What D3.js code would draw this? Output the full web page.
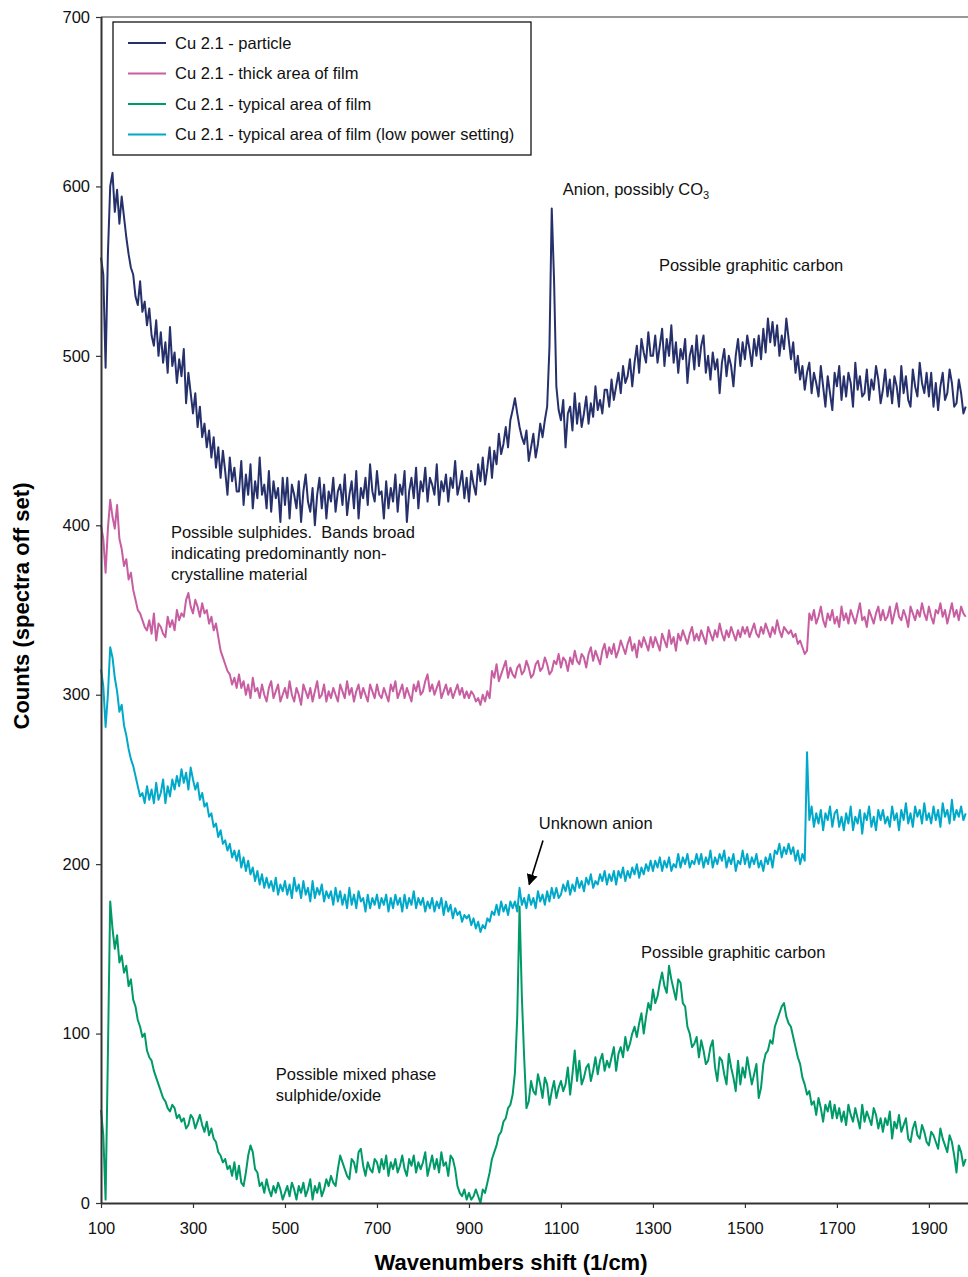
<!DOCTYPE html>
<html>
<head>
<meta charset="utf-8">
<script src="https://cdn.jsdelivr.net/npm/d3@7"></script>
<style>
  html, body { margin: 0; padding: 0; background: #fff; }
  svg { display: block; font-family: "Liberation Sans", Arial, sans-serif; }
</style>
</head>
<body>
<svg id="chart" width="968" height="1277"></svg>
<script>
// ---- data ----
const seriesNames = [
  "Cu 2.1 - particle",
  "Cu 2.1 - thick area of film",
  "Cu 2.1 - typical area of film",
  "Cu 2.1 - typical area of film (low power setting)"
];
const seriesColors = ["#26316c", "#c85ea2", "#009a68", "#00a9c9"];

// wavenumber sampling positions (1/cm): 100 .. 1980 every 5
const wavenumbers = d3.range(100, 1981, 5);

// one row = 100 1/cm (20 samples)
const particle = [
  558,548,493,560,600,608,585,598,578,594,582,570,560,552,548,535,530,544,526,532,
  518,528,512,506,521,500,514,496,508,490,517,494,502,484,498,488,504,472,490,478,
  466,478,458,470,452,460,446,456,440,452,434,446,428,444,432,418,440,426,434,420,
  420,438,412,430,418,436,410,426,416,440,418,424,410,432,408,426,416,422,402,428,
  412,428,404,424,418,410,426,402,420,430,414,408,422,400,418,428,410,424,404,420,
  414,428,408,420,424,412,430,406,418,426,410,432,404,422,416,428,412,436,420,414,
  432,418,420,404,426,410,422,414,430,408,424,418,432,402,420,428,416,434,410,426,
  420,434,414,428,424,418,436,412,426,420,430,414,428,422,438,418,424,432,416,428,
  414,432,424,418,436,426,440,424,434,446,428,444,436,454,442,448,458,446,462,468,
  475,466,458,452,448,456,438,446,454,440,448,460,452,462,470,505,587,545,482,468,
  462,474,446,466,470,456,478,460,472,458,466,476,460,472,464,482,468,474,466,480,
  480,470,486,474,482,490,478,494,484,488,498,482,496,506,490,510,502,496,514,500,
  500,512,496,506,516,494,510,500,518,496,508,490,504,498,510,484,500,506,492,512,
  494,506,512,490,500,486,502,492,498,478,496,504,488,500,494,482,500,510,494,508,
  498,512,504,494,510,500,512,498,516,502,522,508,520,506,518,500,512,504,522,510,
  498,508,490,500,486,494,480,490,496,478,490,484,476,494,482,470,488,478,468,490,
  482,494,474,488,476,490,484,470,496,480,488,476,478,492,474,486,480,494,486,472,
  480,492,476,486,472,488,482,470,494,478,488,474,470,492,482,476,496,484,478,490,
  476,490,470,484,468,482,490,474,478,492,484,470,472,486,478,466,470
];

const thickFilm = [
  400,392,372,398,415,405,398,412,392,386,376,380,368,372,362,356,350,348,344,340,
  338,344,336,348,332,342,340,336,334,346,340,344,338,350,344,348,346,356,360,352,
  348,356,352,346,354,348,350,342,346,338,342,334,326,322,318,314,312,306,310,304,
  312,304,308,300,306,298,310,302,304,298,306,300,296,304,308,298,302,306,296,300,
  304,298,308,300,296,304,300,294,306,302,298,304,296,302,308,298,300,306,296,302,
  298,304,300,296,306,302,298,308,300,304,296,302,306,298,304,300,296,306,302,298,
  306,300,298,304,300,296,306,302,308,298,302,306,298,304,300,296,306,302,308,300,
  302,308,312,302,306,300,304,308,298,302,306,300,304,298,302,306,300,304,298,302,
  298,302,300,296,298,294,300,296,302,298,314,310,318,308,312,316,320,310,316,312,
  310,316,318,312,314,320,316,310,312,318,320,314,316,322,318,312,314,320,318,324,
  316,322,320,314,322,318,326,320,318,324,322,316,324,328,320,326,322,318,326,330,
  322,328,324,330,322,326,332,328,324,330,334,326,330,322,332,328,334,330,326,334,
  328,334,330,326,336,332,328,338,330,334,326,336,332,338,334,330,336,340,332,336,
  332,338,334,330,340,336,332,338,334,342,336,332,338,334,340,336,332,338,334,340,
  336,340,334,338,342,336,334,340,336,342,338,334,340,336,344,338,334,340,338,336,
  338,334,336,330,332,328,324,326,348,344,350,342,346,352,344,340,348,344,350,342,
  346,340,352,344,348,342,350,346,342,348,354,344,346,340,350,346,342,348,352,344,
  350,344,346,352,342,348,354,346,344,350,346,340,352,348,344,350,346,354,348,344,
  352,346,342,350,348,354,346,350,342,348,354,346,350,344,352,348,346
];

const typicalFilm = [
  55,40,2,88,178,162,150,158,142,146,136,140,128,132,120,116,108,104,98,100,
  90,86,84,78,74,70,66,62,60,56,54,58,56,50,52,48,50,44,46,52,
  50,44,48,52,46,42,48,40,44,38,36,30,28,24,26,20,22,16,24,14,
  22,12,10,18,28,34,30,20,18,10,12,6,14,8,4,10,6,12,8,2,
  6,10,4,12,8,2,10,6,12,4,8,14,2,10,6,12,4,8,14,10,
  16,12,10,20,28,24,20,16,14,26,24,18,30,32,22,16,24,20,18,26,
  24,18,26,20,28,16,24,20,26,18,22,28,20,16,26,22,28,18,24,20,
  24,30,16,22,28,20,26,18,30,22,24,16,28,26,20,10,6,4,8,2,
  6,2,4,8,4,0,8,6,12,18,26,30,34,40,42,48,50,56,58,64,
  77,110,175,122,86,56,60,72,66,64,76,70,62,74,70,58,66,72,62,68,
  72,66,70,80,64,76,90,72,84,70,74,80,82,72,78,86,76,84,88,78,
  84,80,86,92,78,88,92,86,98,90,94,100,104,98,106,112,100,110,118,114,
  126,118,122,130,136,128,124,140,132,126,120,132,130,118,116,104,100,92,94,98,
  86,96,90,82,84,92,96,80,72,86,84,76,70,88,80,74,66,84,70,80,
  74,86,78,70,76,82,62,68,82,88,90,96,94,104,108,112,116,118,110,106,
  104,98,92,86,82,74,70,64,66,58,60,52,62,56,48,58,54,60,50,58,
  50,56,48,54,46,58,52,48,56,50,44,58,48,54,50,46,56,52,44,50,
  42,50,46,54,38,48,44,52,42,46,50,38,36,44,48,40,38,46,42,36,
  34,42,40,36,32,44,38,34,30,40,36,28,18,34,30,22,26
];

const lowPower = [
  315,305,281,300,328,322,310,302,290,294,282,276,268,262,258,252,246,240,242,236,
  246,238,244,236,248,238,242,250,236,246,240,250,244,252,246,256,248,254,244,257,
  250,244,248,238,242,234,236,228,230,222,224,216,220,212,214,208,212,204,208,202,
  208,198,204,196,202,194,198,190,196,188,194,186,192,186,190,184,192,182,188,184,
  190,182,188,180,192,184,188,180,190,182,186,178,190,180,186,182,188,178,184,180,
  184,176,186,178,184,176,182,174,186,176,182,174,184,178,180,172,182,174,180,176,
  182,174,180,176,182,172,180,174,182,176,180,172,182,174,180,176,184,174,180,176,
  180,172,178,174,180,172,178,174,180,170,178,172,176,168,174,170,172,166,170,168,
  170,164,168,162,166,160,164,162,168,166,172,170,176,170,178,172,176,170,178,174,
  178,172,186,176,180,174,182,176,180,174,184,178,182,176,184,178,186,180,186,180,
  182,188,184,190,182,188,184,192,186,190,184,192,188,194,186,190,188,194,190,196,
  188,194,190,196,188,196,192,198,190,196,192,198,194,200,192,198,194,200,196,202,
  196,202,198,204,196,202,198,204,196,200,198,206,198,204,200,206,198,202,200,206,
  200,206,198,204,200,208,198,204,200,206,202,208,198,204,200,206,196,202,200,208,
  200,206,198,204,200,206,198,202,196,204,200,206,198,208,206,212,204,210,206,212,
  206,210,202,208,200,206,202,266,226,234,222,230,224,232,220,230,226,234,222,230,
  232,222,228,220,230,224,234,220,228,224,232,218,230,226,234,222,228,220,232,226,
  232,224,228,222,234,226,230,220,232,226,236,224,230,222,234,228,232,224,236,226,
  230,224,234,226,232,222,236,228,232,224,238,226,232,228,234,226,230
];

const yTicks = [0, 100, 200, 300, 400, 500, 600, 700];
const xTicks = [100, 300, 500, 700, 900, 1100, 1300, 1500, 1700, 1900];

const xTitle = "Wavenumbers shift (1/cm)";
const yTitle = "Counts (spectra off set)";

const co3Note = { text: "Anion, possibly CO", sub: "3", w: 1104, v: 595 };
const notes = [
  { lines: ["Possible graphitic carbon"], w: 1313, v: 550 },
  { lines: ["Possible sulphides.  Bands broad", "indicating predominantly non-", "crystalline material"], w: 252, v: 392.5 },
  { lines: ["Unknown anion"], w: 1052, v: 220.5 },
  { lines: ["Possible graphitic carbon"], w: 1274, v: 144.5 },
  { lines: ["Possible mixed phase", "sulphide/oxide"], w: 480, v: 72.5 }
];
const arrowFrom = { w: 1061, v: 214 };
const arrowTo = { w: 1031, v: 188 };

// ---- drawing ----
const svg = d3.select("#chart");
const margin = { left: 101, right: 968, top: 17, bottom: 1203 };
const fontSize = "16.5px";

const x = d3.scaleLinear().domain([100, 1985]).range([margin.left, margin.right]);
const y = d3.scaleLinear().domain([0, 700]).range([margin.bottom, margin.top]);

// top border
svg.append("line")
  .attr("x1", x(100)).attr("x2", x(1985))
  .attr("y1", y(700)).attr("y2", y(700))
  .attr("stroke", "#333").attr("stroke-width", 1.2);

// series
const allSeries = [particle, thickFilm, typicalFilm, lowPower];
const line = d3.line().x((d, i) => x(wavenumbers[i])).y(d => y(d));
const drawOrder = [0, 1, 3, 2];
drawOrder.forEach(k => {
  svg.append("path")
    .datum(allSeries[k])
    .attr("fill", "none")
    .attr("stroke", seriesColors[k])
    .attr("stroke-width", 2)
    .attr("stroke-linejoin", "round")
    .attr("d", line);
});

// axes
const yAxis = svg.append("g")
  .attr("transform", `translate(${margin.left},0)`)
  .call(d3.axisLeft(y).tickValues(yTicks).tickSize(5).tickPadding(6).tickFormat(d3.format("d")));
const xAxis = svg.append("g")
  .attr("transform", `translate(0,${margin.bottom})`)
  .call(d3.axisBottom(x).tickValues(xTicks).tickSize(5).tickPadding(14).tickFormat(d3.format("d")));
[yAxis, xAxis].forEach(g => {
  g.select(".domain").attr("stroke", "#333").attr("stroke-width", 2);
  g.selectAll(".tick line").attr("stroke", "#333").attr("stroke-width", 1.2);
  g.selectAll(".tick text").attr("fill", "#111").style("font-size", fontSize)
    .style("font-family", "Liberation Sans, Arial, sans-serif");
});
xAxis.select(".domain").attr("d", `M${x(100)},0.5H${x(1985)}`);
yAxis.select(".domain").attr("d", `M0.5,${y(700)}V${y(0)}`);

// axis titles
svg.append("text")
  .attr("x", 511).attr("y", 1270)
  .attr("text-anchor", "middle")
  .style("font-size", "22px").style("font-weight", "bold").attr("fill", "#000")
  .text(xTitle);
svg.append("text")
  .attr("transform", "translate(29,606) rotate(-90)")
  .attr("text-anchor", "middle")
  .style("font-size", "22px").style("font-weight", "bold").attr("fill", "#000")
  .text(yTitle);

// annotations
const noteG = svg.append("g").style("font-size", fontSize).attr("fill", "#111")
  .style("white-space", "pre");
const co3 = noteG.append("text").attr("x", x(co3Note.w)).attr("y", y(co3Note.v));
co3.append("tspan").text(co3Note.text);
co3.append("tspan").attr("dy", 4).style("font-size", "11px").text(co3Note.sub);

notes.forEach(n => {
  const t = noteG.append("text").attr("x", x(n.w)).attr("y", y(n.v))
    .attr("xml:space", "preserve");
  n.lines.forEach((l, i) => {
    t.append("tspan").attr("x", x(n.w)).attr("dy", i === 0 ? 0 : 21).text(l);
  });
});

// arrow for unknown anion
svg.append("defs").append("marker")
  .attr("id", "ah").attr("viewBox", "0 0 10 10").attr("refX", 9).attr("refY", 5)
  .attr("markerWidth", 7).attr("markerHeight", 7).attr("orient", "auto")
  .append("path").attr("d", "M0,0L10,5L0,10z").attr("fill", "#000");
svg.append("line")
  .attr("x1", x(arrowFrom.w)).attr("y1", y(arrowFrom.v))
  .attr("x2", x(arrowTo.w)).attr("y2", y(arrowTo.v))
  .attr("stroke", "#000").attr("stroke-width", 1.6)
  .attr("marker-end", "url(#ah)");

// legend
const legend = svg.append("g").attr("transform", "translate(113,22)");
legend.append("rect").attr("width", 418).attr("height", 133)
  .attr("fill", "#fff").attr("stroke", "#000").attr("stroke-width", 1.2);
seriesNames.forEach((name, i) => {
  const yy = 21 + i * 30.5;
  legend.append("line").attr("x1", 15).attr("x2", 53).attr("y1", yy).attr("y2", yy)
    .attr("stroke", seriesColors[i]).attr("stroke-width", 2);
  legend.append("text").attr("x", 62).attr("y", yy + 5.5)
    .style("font-size", fontSize).attr("fill", "#111").text(name);
});
</script>
</body>
</html>
